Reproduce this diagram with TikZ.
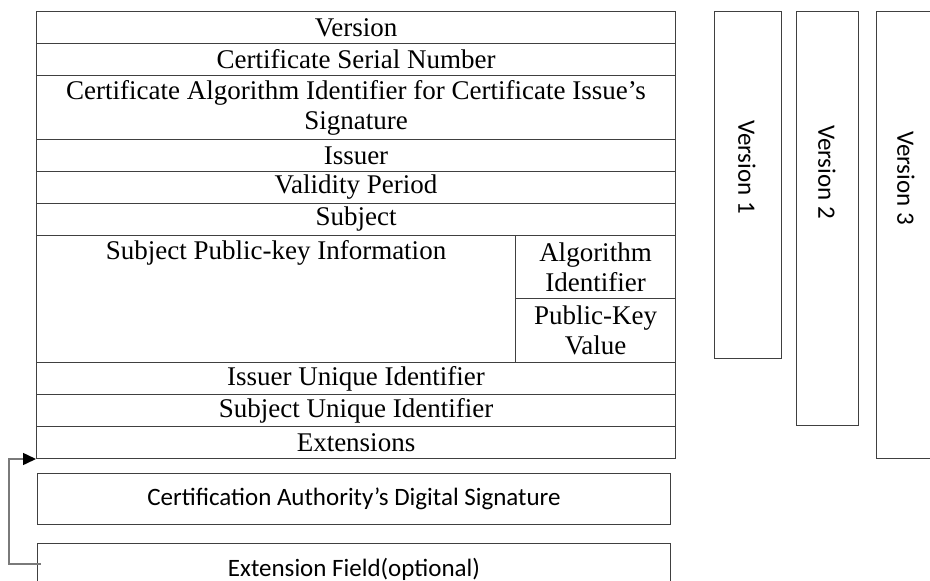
\documentclass[tikz,border=0pt]{standalone}
\usepackage{fontspec}
\setmainfont{Liberation Serif}
\newfontfamily\calibfont{Carlito}
\usetikzlibrary{arrows.meta,positioning}
\definecolor{frame}{HTML}{404040}
\definecolor{linkgray}{HTML}{7A7A7A}
\tikzset{
  field/.style={draw=frame,line width=1pt,anchor=north west,inner sep=0pt,
                minimum width=639pt,minimum height=#1,
                font=\fontsize{27}{30}\selectfont,align=center},
  field/.default=32pt,
  subfield/.style={field=#1,minimum width=160pt},
  verbox/.style={draw=frame,line width=1pt,anchor=north west,inner sep=0pt,
                 minimum width=#1},
  vertext/.style={rotate=-90,font=\calibfont\fontsize{25}{29}\selectfont},
  sigbox/.style={draw=frame,line width=1pt,anchor=north west,inner sep=0pt,
                 minimum width=633pt,minimum height=51pt,
                 font=\calibfont\fontsize{25}{29}\selectfont},
  linkarrow/.style={-{Triangle[length=13pt,width=12pt,fill=black,color=black]},
                    linkgray,line width=1.5pt},
}
\begin{document}
\begin{tikzpicture}[x=1pt,y=-1pt]
  \useasboundingbox (0,0) rectangle (930,581);
  \clip (0,0) rectangle (930,581);
  % Certificate fields
  \node[field](ver)at(36,11){Version};
  \node[field](serial)at(36,43){Certificate Serial Number};
  \node[field=64pt](algo)at(36,75){Certificate Algorithm Identifier for Certificate Issue’s\\Signature};
  \node[field](issuer)at(36,139){Issuer};
  \node[field](valid)at(36,171){Validity Period};
  \node[field](subj)at(36,203){Subject};
  \node[field=127pt,minimum width=479pt](spki)at(36,235){};
  \node[font=\fontsize{27}{30}\selectfont,anchor=north,inner sep=0pt]
    (spkitxt)at([yshift=-5pt]spki.north){Subject Public-key Information};
  \node[subfield=63pt](algid)at(515,235){Algorithm\\Identifier};
  \node[subfield=64pt](pkval)at(515,298){Public-Key\\Value};
  \node[field](iuid)at(36,362){Issuer Unique Identifier};
  \node[field](suid)at(36,394){Subject Unique Identifier};
  \node[field](ext)at(36,426){Extensions};
  % Version columns
  \node[verbox=67pt,minimum height=347pt](v1)at(714,11){};
  \node[vertext](v1txt)at(747,167){Version 1};
  \node[verbox=62pt,minimum height=414pt](v2)at(796,11){};
  \node[vertext](v2txt)at(827,172){Version 2};
  \node[verbox=70pt,minimum height=447pt](v3)at(876,11){};
  \node[vertext](v3txt)at(906,178){Version 3};
  % Lower boxes
  \node[sigbox](sig)at(37,473){Certification Authority’s Digital Signature};
  \node[sigbox](extf)at(37,543){Extension Field(optional)};
  % Link back to the table
  \coordinate(tail)at(41,564);
  \draw[linkarrow](tail)--(9,564)|-(ext.south west);
\end{tikzpicture}
\end{document}
